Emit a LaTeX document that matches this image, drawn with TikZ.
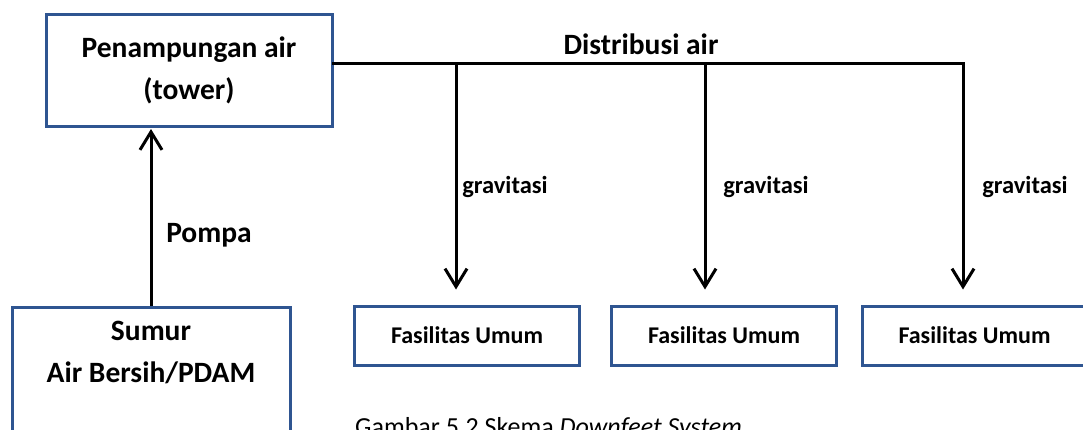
\documentclass[tikz,border=0pt]{standalone}
\usepackage{fontspec}
\setmainfont{Carlito}
\usetikzlibrary{arrows.meta}
\definecolor{boxblue}{RGB}{47,85,145}
\tikzset{
  box/.style={draw=boxblue, line width=3pt, fill=white, rectangle, inner sep=0pt},
  conn/.style={line width=3pt, line cap=rect},
  arr/.style={line width=3pt, -{Straight Barb[length=18pt,width=22pt]}},
  bigtxt/.style={font=\fontsize{29.5}{42}\selectfont\bfseries, align=center},
  midtxt/.style={font=\fontsize{24}{28}\selectfont\bfseries},
  smalltxt/.style={font=\fontsize{24.5}{28}\selectfont\bfseries},
}
\begin{document}
\begin{tikzpicture}[x=1pt,y=-1pt]
\useasboundingbox (0,0) rectangle (1083,429);
\clip (0,0) rectangle (1083,429);
\node[box, minimum width=286pt, minimum height=112pt, bigtxt] (tower) at (189,70) {Penampungan air\\(tower)};
\node[box, minimum width=278pt, minimum height=140pt] (sumur) at (151,377) {};
\node[bigtxt] (sumurtxt) at (151,352) {Sumur\\Air Bersih/PDAM};
\node[box, minimum width=225pt, minimum height=59pt, midtxt] (f1) at (467,335.5) {Fasilitas Umum};
\node[box, minimum width=225pt, minimum height=59pt, midtxt] (f2) at (724,335.5) {Fasilitas Umum};
\node[box, minimum width=225pt, minimum height=59pt, midtxt] (f3) at (974.5,335.5) {Fasilitas Umum};
\coordinate (j1) at (456,63);
\coordinate (j2) at (705,63);
\coordinate (j3) at (963,63);
\draw[conn] ([yshift=7pt]tower.east) -- (j3);
\draw[arr, shorten >=15pt] (j1) -- (j1 |- f1.north);
\draw[arr, shorten >=15pt] (j2) -- (j2 |- f2.north);
\draw[arr, shorten >=15pt] (j3) -- (j3 |- f3.north);
\draw[arr, shorten >=1.5pt] (sumur.north) -- (sumur.north |- tower.south);
\node[bigtxt] (dist) at (641,44) {Distribusi air};
\node[bigtxt] (pompa) at (209,235) {Pompa};
\node[smalltxt] (g1) at (505,187) {gravitasi};
\node[smalltxt] (g2) at (766,187) {gravitasi};
\node[smalltxt] (g3) at (1025,187) {gravitasi};
\node[font=\fontsize{26}{30}\selectfont, anchor=base west, inner sep=0pt] (cap) at (355,435) {Gambar 5.2 Skema \textit{Downfeet System}};
\end{tikzpicture}
\end{document}
